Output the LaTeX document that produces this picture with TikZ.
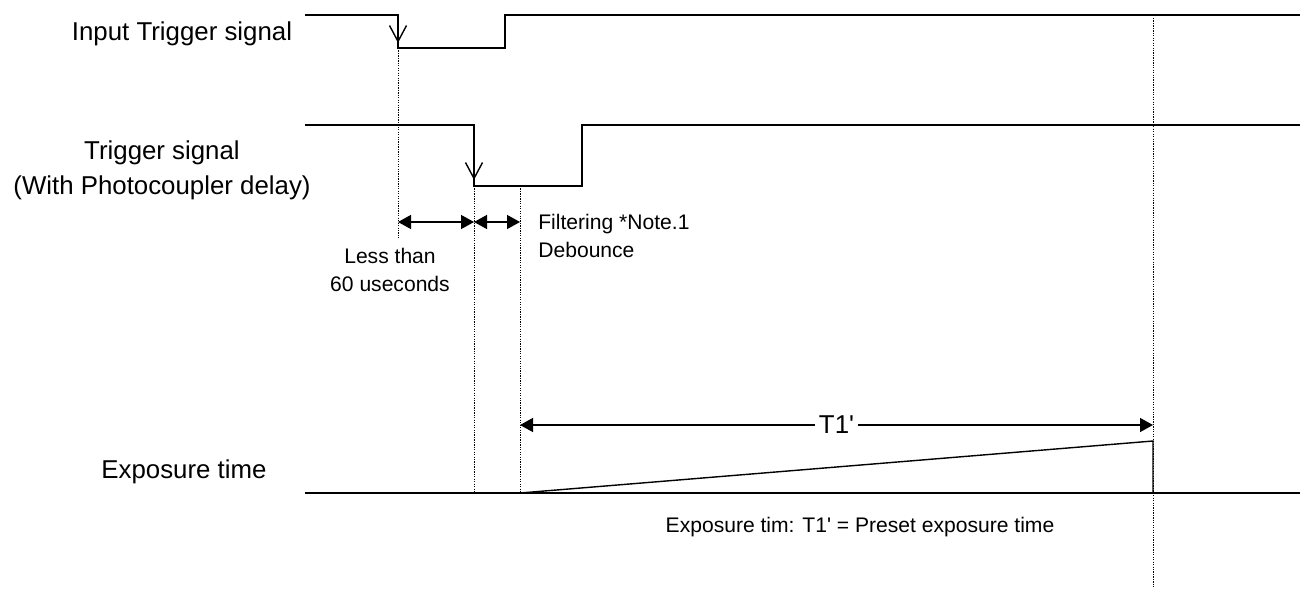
\documentclass[tikz,border=0pt]{standalone}
\usepackage{fontspec}
\setmainfont{Liberation Sans}
\usepackage{tikz}
\usetikzlibrary{positioning,arrows.meta,calc}
\tikzset{
signal/.style={
draw,
line width=1.1pt
},
ramp/.style={
draw,
line width=0.8pt
},
guide/.style={
draw,
line width=0.5pt,
dash pattern=on 0.7pt off 0.7pt
},
span/.style={
{Triangle[length=2.6mm,width=2.8mm]}-{Triangle[length=2.6mm,width=2.8mm]},
line width=0.8pt
},
edgemark/.style={
-{Straight Barb[length=3.2mm,width=3.4mm]},
line width=0.8pt
},
biglabel/.style={
font=\fontsize{14.7}{20}\selectfont,
align=center,
inner sep=0pt
},
smalllabel/.style={
font=\fontsize{12}{15.5}\selectfont,
align=left,
inner sep=0pt
}
}

\begin{document}
\begin{tikzpicture}[x=0.02cm,y=-0.02cm]
\useasboundingbox (0,0) rectangle (1300,588);

% key instants
\coordinate (inFall) at (398,48);
\coordinate (trFall) at (474,186);
\coordinate (trEnd) at (520,186);
\coordinate (expEnd) at (1153,441);

% waveforms
\draw[signal] (305,15) -- (398,15) -- (inFall) -- (505,48) -- (505,15) -- (1300,15);
\draw[signal] (305,125) -- (474,125) -- (trFall) -- (582,186) -- (582,125) -- (1300,125);
\draw[signal] (305,493) -- (1300,493);
\draw[ramp] (520,493) -- (expEnd) -- (1153,493);

% falling edge marks
\draw[edgemark] (398,20) -- (398,43);
\draw[edgemark] (474,150) -- (474,180);

% guides
\draw[guide] (inFall) -- (398,238);
\draw[guide] (trFall) -- (474,493);
\draw[guide] (trEnd) -- (520,493);
\draw[guide] (1153,18) -- (1153,588);

% spans
\draw[span] (398,222) -- (474,222);
\draw[span] (474,222) -- (520,222);
\draw[span] (520,425) -- node[biglabel,fill=white,inner xsep=2pt](t1){T1\textquotesingle} (1153,425);

% labels
\node[biglabel] (inlbl) at (182,34) {Input Trigger signal};
\node[biglabel] (trlbl) at (162,170) {Trigger signal\\(With Photocoupler delay)};
\node[biglabel] (explbl) at (184,472) {Exposure time};
\node[smalllabel,align=center] (lesslbl) at (390,270) {Less than\\60 useconds};
\node[smalllabel,anchor=west] (filtlbl) at (538,236) {Filtering *Note.1\\Debounce};
\node[smalllabel] (notelbl) at (860,527) {Exposure tim: T1\textquotesingle{} = Preset exposure time};
\end{tikzpicture}
\end{document}
